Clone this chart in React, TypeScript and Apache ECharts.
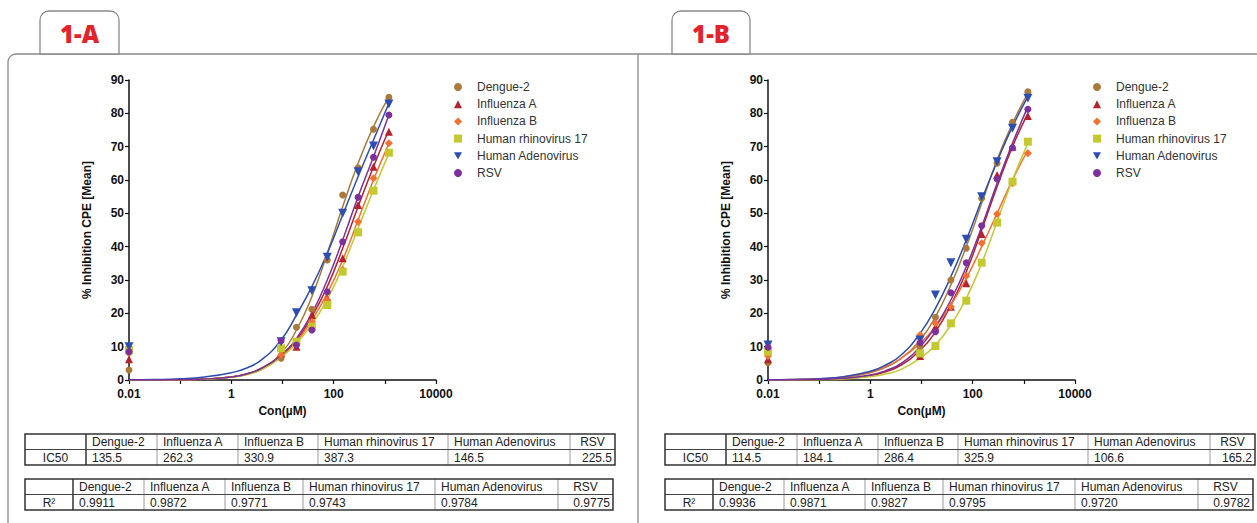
import React, { useEffect, useRef } from "react";
import * as echarts from "echarts";

// ---------- data ----------
const VIRUSES = ["Dengue-2", "Influenza A", "Influenza B", "Human rhinovirus 17", "Human Adenovirus", "RSV"];
const COLORS = ["#a97a3a", "#b3222e", "#f47030", "#c3c92f", "#2e4db0", "#7d2f9c"];
const SYMBOLS = ["circle", "triangle", "diamond", "rect", "path://M0,0L10,0L5,9Z", "circle"];
const SYMBOL_SIZES = [7, 8, 8, 8, 9, 7];

const DOSES = [0.01, 9.375, 18.75, 37.5, 75, 150, 300, 600, 1200];

// Panel 1-A measured means
const A_DENGUE = [3, 6.5, 15.8, 21.2, 36, 55.5, 63.7, 75.2, 84.8];
const A_FLU_A = [6.2, 8, 10, 19.5, 24.5, 36.5, 52.5, 64, 74.5];
const A_FLU_B = [8, 7.5, 11, 17.5, 24, 33, 47.5, 60.5, 71];
const A_HRV = [9, 9.5, 11.5, 16, 22.5, 32.5, 44.3, 56.8, 68.2];
const A_ADENO = [10, 11.5, 20.2, 26.8, 36.8, 50, 62.5, 70.2, 82.8];
const A_RSV = [8.5, 11.8, 10.5, 15, 26.5, 41.5, 54.8, 66.8, 79.5];

// Panel 1-B measured means
const B_DENGUE = [5.2, 10, 18.8, 30, 39.5, 54.5, 65, 77.3, 86.5];
const B_FLU_A = [6.2, 7.2, 16, 22, 29, 43.8, 61.5, 70, 79.2];
const B_FLU_B = [7.2, 13.5, 17, 22, 31.2, 41, 49.8, 59, 68];
const B_HRV = [8.5, 8, 10.2, 17, 23.8, 35.2, 47.2, 59.5, 71.5];
const B_ADENO = [10.5, 12, 25.5, 35.2, 42.2, 55, 65.5, 75.5, 84.5];
const B_RSV = [9.8, 11.2, 14.5, 26.2, 35.2, 46.3, 60.3, 69.7, 81.2];

// Fitted curves
const FIT_X = [0.01, 0.03, 0.1, 0.3, 1, 2, 4, 9.375, 18.75, 37.5, 75, 150, 300, 600, 1200];
const A_FIT_DENGUE = [0.01, 0.03, 0.1, 0.3, 0.9, 1.9, 3.7, 8, 15, 25, 38, 52, 65, 76, 85];
const A_FIT_FLU_A = [0, 0.02, 0.08, 0.3, 0.9, 1.8, 3.5, 7.3, 12, 19, 28, 39.5, 52, 64, 75];
const A_FIT_FLU_B = [0, 0.02, 0.08, 0.3, 0.9, 1.7, 3.3, 7, 11.5, 18, 26, 36, 48, 60, 71];
const A_FIT_HRV = [0, 0.02, 0.08, 0.25, 0.8, 1.6, 3.2, 6.8, 11, 16.8, 24.2, 34, 45.5, 57, 68];
const A_FIT_ADENO = [0.04, 0.12, 0.35, 0.9, 2.2, 3.6, 6.2, 12, 19.5, 28, 38, 49.5, 61, 72, 83];
const A_FIT_RSV = [0, 0.02, 0.08, 0.3, 0.9, 1.8, 3.6, 7.5, 12.5, 20, 30, 42, 55, 67, 79.5];

const B_FIT_DENGUE = [0.03, 0.1, 0.3, 0.8, 2.2, 3.8, 6.5, 12, 19, 28.5, 40, 53, 66, 77, 86];
const B_FIT_FLU_A = [0.01, 0.04, 0.15, 0.4, 1.3, 2.5, 4.5, 9, 14.5, 22.5, 32.5, 45, 58, 70, 80];
const B_FIT_FLU_B = [0.04, 0.12, 0.35, 0.9, 2.4, 4, 6.5, 11, 16, 22.5, 30.5, 40, 50, 60, 69];
const B_FIT_HRV = [0, 0.03, 0.1, 0.3, 1, 1.8, 3.2, 6.5, 10.5, 16.5, 24.5, 35, 47.5, 60, 71];
const B_FIT_ADENO = [0.05, 0.15, 0.4, 1, 2.6, 4.5, 7.5, 14, 21.5, 31, 42, 54, 65.5, 76, 85];
const B_FIT_RSV = [0.01, 0.05, 0.2, 0.5, 1.5, 2.8, 5, 10, 16, 24, 34, 46, 59, 71, 82];

// Tables
const A_IC50 = ["135.5", "262.3", "330.9", "387.3", "146.5", "225.5"];
const A_R2 = ["0.9911", "0.9872", "0.9771", "0.9743", "0.9784", "0.9775"];
const B_IC50 = ["114.5", "184.1", "286.4", "325.9", "106.6", "165.2"];
const B_R2 = ["0.9936", "0.9871", "0.9827", "0.9795", "0.9720", "0.9782"];

const PANEL_TITLES = ["1-A", "1-B"];
const Y_TITLE = "% Inhibition CPE [Mean]";
const X_TITLE = "Con(µM)";

const A_MEANS = [A_DENGUE, A_FLU_A, A_FLU_B, A_HRV, A_ADENO, A_RSV];
const B_MEANS = [B_DENGUE, B_FLU_A, B_FLU_B, B_HRV, B_ADENO, B_RSV];
const A_FITS = [A_FIT_DENGUE, A_FIT_FLU_A, A_FIT_FLU_B, A_FIT_HRV, A_FIT_ADENO, A_FIT_RSV];
const B_FITS = [B_FIT_DENGUE, B_FIT_FLU_A, B_FIT_FLU_B, B_FIT_HRV, B_FIT_ADENO, B_FIT_RSV];

// ---------- layout ----------
const FONT = "'Liberation Sans', Arial, Helvetica, sans-serif";
const T1_EDGES = [25, 86, 157, 238, 318, 448, 570, 615];
const T1_ROWS = [434, 449.5, 465];
const T2_EDGES = [25, 73, 144, 225, 303, 435, 558, 613];
const T2_ROWS = [479, 494.5, 510];

function tableGraphics(dx: number, edges: number[], rows: number[], rowLabel: string, values: string[]) {
  const E = edges.map((e) => e + dx);
  const [top, mid, bot] = rows;
  const els: any[] = [];
  for (let i = 2; i < E.length - 1; i++) {
    els.push({ type: "line", shape: { x1: E[i], y1: top, x2: E[i], y2: bot }, style: { stroke: "#9a9a9a", lineWidth: 1 }, z: 10 });
  }
  els.push({ type: "line", shape: { x1: E[0], y1: mid, x2: E[E.length - 1], y2: mid }, style: { stroke: "#444", lineWidth: 1.2 }, z: 11 });
  els.push({ type: "line", shape: { x1: E[1], y1: top, x2: E[1], y2: bot }, style: { stroke: "#333", lineWidth: 1.5 }, z: 11 });
  els.push({ type: "rect", shape: { x: E[0], y: top, width: E[E.length - 1] - E[0], height: bot - top }, style: { fill: "none", stroke: "#333", lineWidth: 1.5 }, z: 12 });
  const hy = (top + mid) / 2 + 0.5;
  const dy = (mid + bot) / 2 + 0.5;
  const ts = { fontSize: 12, fontFamily: FONT, fill: "#222", verticalAlign: "middle" };
  els.push({ type: "text", x: (E[0] + E[1]) / 2, y: dy, style: { ...ts, text: rowLabel, align: "center" }, z: 13 });
  VIRUSES.forEach((v, i) => {
    const c0 = E[i + 1];
    const c1 = E[i + 2];
    const last = i === VIRUSES.length - 1;
    els.push({
      type: "text",
      x: last ? (c0 + c1) / 2 : c0 + 6,
      y: hy,
      style: { ...ts, text: v, align: last ? "center" : "left" },
      z: 13,
    });
    els.push({
      type: "text",
      x: last ? c1 - 3 : c0 + 6,
      y: dy,
      style: { ...ts, text: values[i], align: last ? "right" : "left" },
      z: 13,
    });
  });
  return els;
}

function tabGraphics(x: number, w: number, title: string) {
  return [
    { type: "rect", shape: { x, y: 11, width: w, height: 43, r: [9, 9, 0, 0] }, style: { fill: "#fff", stroke: "#8a8a8a", lineWidth: 1.3 }, z: 5 },
    {
      type: "text",
      x: x + w / 2,
      y: 33,
      style: { text: title, fontSize: 24, fontWeight: 800, fontFamily: "'Open Sans', Lato, sans-serif", fill: "#e4222b", align: "center", verticalAlign: "middle" },
      z: 6,
    },
  ];
}

export default function App() {
  const ref = useRef<HTMLDivElement>(null);
  useEffect(() => {
    if (!ref.current) return;
    const chart = echarts.init(ref.current, undefined, { renderer: "svg" });

    const grids = [
      { left: 129, top: 80, width: 307, height: 300 },
      { left: 768, top: 80, width: 307, height: 300 },
    ];
    const axisLine = { show: true, lineStyle: { color: "#111", width: 1.5 } };
    const xAxes = grids.map((_, gi) => ({
      type: "log",
      logBase: 10,
      gridIndex: gi,
      min: 0.01,
      max: 10000,
      axisLine,
      axisTick: { show: true, length: 4, lineStyle: { color: "#111", width: 1.2 } },
      splitLine: { show: false },
      axisLabel: {
        margin: 8,
        fontSize: 12,
        fontWeight: "bold",
        fontFamily: FONT,
        color: "#111",
        formatter: (v: number) => {
          const e = Math.round(Math.log10(v));
          if (e % 2 !== 0) return "";
          return e < 0 ? String(Number(v.toFixed(2))) : String(Math.round(v));
        },
      },
      name: X_TITLE,
      nameLocation: "middle",
      nameGap: 21,
      nameTextStyle: { fontSize: 12, fontWeight: "bold", fontFamily: FONT, color: "#111" },
    }));
    const yAxes = grids.map((_, gi) => ({
      type: "value",
      gridIndex: gi,
      min: 0,
      max: 90,
      interval: 10,
      axisLine,
      axisTick: { show: true, length: 4, lineStyle: { color: "#111", width: 1.2 } },
      splitLine: { show: false },
      axisLabel: { margin: 5, fontSize: 12, fontWeight: "bold", fontFamily: FONT, color: "#111" },
      name: Y_TITLE,
      nameLocation: "middle",
      nameGap: 36,
      nameTextStyle: { fontSize: 12, fontWeight: "bold", fontFamily: FONT, color: "#111" },
    }));

    const series: any[] = [];
    [A_FITS, B_FITS].forEach((fits, gi) => {
      fits.forEach((vals, i) => {
        series.push({
          type: "line",
          name: VIRUSES[i] + " fit " + PANEL_TITLES[gi],
          xAxisIndex: gi,
          yAxisIndex: gi,
          data: FIT_X.map((x, k) => [x, vals[k]]),
          smooth: true,
          showSymbol: false,
          symbol: "none",
          lineStyle: { color: COLORS[i], width: 1.5 },
          itemStyle: { color: COLORS[i] },
          z: 2,
        });
      });
    });
    [A_MEANS, B_MEANS].forEach((means, gi) => {
      means.forEach((vals, i) => {
        series.push({
          type: "scatter",
          name: VIRUSES[i],
          xAxisIndex: gi,
          yAxisIndex: gi,
          data: DOSES.map((x, k) => [x, vals[k]]),
          symbol: SYMBOLS[i],
          symbolSize: SYMBOL_SIZES[i],
          itemStyle: { color: COLORS[i], opacity: 1 },
          clip: false,
          z: 3,
        });
      });
    });

    const legendBase = {
      orient: "vertical",
      top: 76,
      itemWidth: 8,
      itemHeight: 8,
      itemGap: 5.2,
      data: VIRUSES,
      selectedMode: false,
      textStyle: { fontSize: 12, fontFamily: FONT, color: "#333", lineHeight: 12, padding: [0, 0, 0, 10] },
    };

    const graphics: any[] = [
      { type: "rect", shape: { x: 8, y: 54, width: 630, height: 520, r: [8, 0, 0, 0] }, style: { fill: "none", stroke: "#8a8a8a", lineWidth: 1.3 }, z: 4 },
      { type: "line", shape: { x1: 638, y1: 54, x2: 1257, y2: 54 }, style: { stroke: "#8a8a8a", lineWidth: 1.3 }, z: 4 },
      ...tabGraphics(40, 79, PANEL_TITLES[0]),
      ...tabGraphics(672, 78, PANEL_TITLES[1]),
      ...tableGraphics(0, T1_EDGES, T1_ROWS, "IC50", A_IC50),
      ...tableGraphics(0, T2_EDGES, T2_ROWS, "R²", A_R2),
      ...tableGraphics(640, T1_EDGES, T1_ROWS, "IC50", B_IC50),
      ...tableGraphics(640, T2_EDGES, T2_ROWS, "R²", B_R2),
    ];

    chart.setOption({
      animation: false,
      backgroundColor: "#fff",
      grid: grids,
      xAxis: xAxes,
      yAxis: yAxes,
      legend: [
        { ...legendBase, left: 449 },
        { ...legendBase, left: 1088 },
      ],
      series,
      graphic: { elements: graphics },
    });
    return () => chart.dispose();
  }, []);
  return <div ref={ref} style={{ position: "absolute", left: 0, top: 0, width: 1257, height: 523 }} />;
}
